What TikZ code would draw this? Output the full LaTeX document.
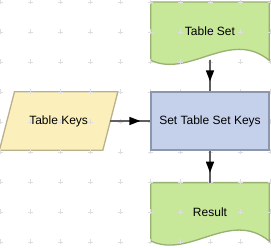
\documentclass[tikz,border=0pt]{standalone}
\usepackage{fontspec}
\setmainfont{Liberation Sans}
\usepackage{tikz}
\usetikzlibrary{arrows.meta,positioning,backgrounds,decorations.markings}
\definecolor{docgreen}{RGB}{198,232,152}
\definecolor{docedge}{RGB}{152,176,112}
\definecolor{procblue}{RGB}{197,208,235}
\definecolor{procedge}{RGB}{140,150,172}
\definecolor{keyyellow}{RGB}{251,240,188}
\definecolor{keyedge}{RGB}{186,176,140}
\definecolor{flowgray}{RGB}{95,95,95}
\definecolor{markgray}{RGB}{222,222,222}
\tikzset{
  box/.style={rectangle, minimum width=118pt, minimum height=58pt, align=center,
              font=\fontsize{12}{14}\selectfont, inner sep=0pt},
  procbox/.style={box, draw=procedge, line width=1.3pt, fill=procblue},
  docbox/.style={box},
  docline/.style={draw=docedge, line width=1.3pt, fill=docgreen},
  keybox/.style={box, minimum width=103pt},
  keyline/.style={draw=keyedge, line width=1.3pt, fill=keyyellow},
  flow/.style={draw=flowgray, line width=1.6pt, postaction={decorate},
               decoration={markings, mark=at position -10pt with
                 {\arrow{Triangle[length=11pt, width=8pt, color=black]}}}},
  gridmark/.style={draw=markgray, line width=0.9pt},
}
\begin{document}
\begin{tikzpicture}[x=1pt, y=-1pt]
\useasboundingbox (0,0) rectangle (271,248);
% grid crosses
\foreach \x in {0,30,...,270}
  \foreach \y in {2,32,...,242}
    \draw[gridmark] ({\x-2.5},\y) -- ({\x+2.5},\y) (\x,{\y-2.5}) -- (\x,{\y+2.5});

\node[procbox] (proc) at (210,121) {Set Table Set Keys};
\node[docbox, above=31pt of proc] (ts) {Table Set};
\node[docbox, below=32pt of proc] (res) {Result};
\node[keybox, left=40pt of proc] (keys) {Table Keys};

\begin{scope}[on background layer]
% document outlines with the wavy bottom
\foreach \n in {ts,res}
  \draw[docline] (\n.north west) -- (\n.north east) -- (\n.south east)
    .. controls ([xshift=-39pt,yshift=32pt]\n.south east)
           and ([xshift=39pt,yshift=-18pt]\n.south west) .. (\n.south west) -- cycle;
% slanted input box
\draw[keyline] ([xshift=7.5pt]keys.north west) -- ([xshift=7.5pt]keys.north east)
  -- ([xshift=-7.5pt]keys.south east) -- ([xshift=-7.5pt]keys.south west) -- cycle;
\end{scope}

\draw[flow] (ts) -- (proc);
\draw[flow] (keys) -- (proc);
\draw[flow] (proc) -- (res);
\end{tikzpicture}
\end{document}
